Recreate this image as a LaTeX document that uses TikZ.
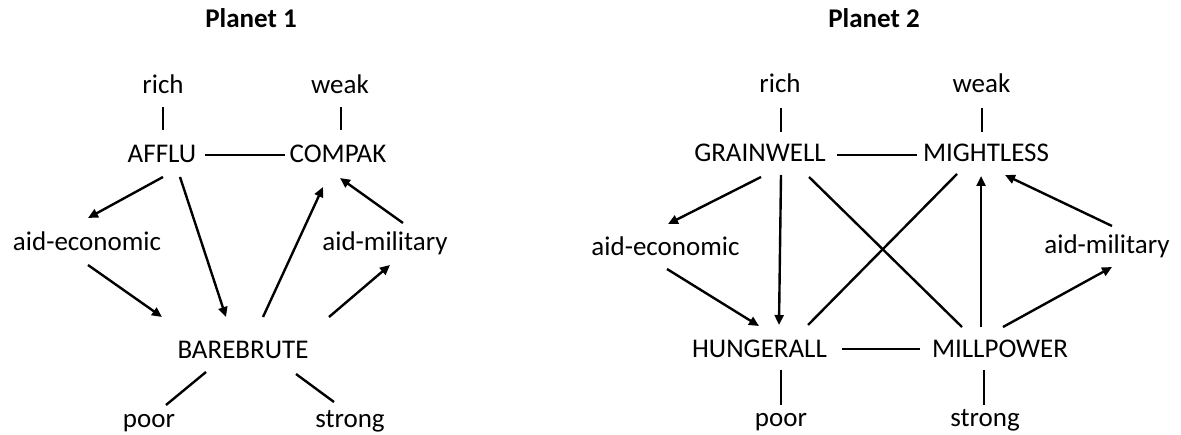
\documentclass[tikz,border=0pt]{standalone}
\usepackage{fontspec}
\setmainfont{Carlito}
\usetikzlibrary{arrows.meta}
\begin{document}
\begin{tikzpicture}[x=1pt,y=-1pt,
  lbl/.style={anchor=base,inner sep=0pt,font=\fontsize{27}{30}\selectfont},
  ttl/.style={lbl,font=\fontsize{27}{30}\selectfont\bfseries},
  ln/.style={line width=2.4pt},
  arr/.style={line width=2.4pt,-{Triangle[length=10pt,width=9pt]}}]
\useasboundingbox (0,0) rectangle (1181,435);
% Planet 1
\node[ttl] (t1) at (251,28) {Planet 1};
\node[lbl] (rich1) at (163,94) {rich};
\node[lbl] (weak1) at (340,94) {weak};
\node[lbl] (afflu) at (162,163) {AFFLU};
\node[lbl] (compak) at (338,163) {COMPAK};
\node[lbl] (aide1) at (87,251) {aid-economic};
\node[lbl] (aidm1) at (385,251) {aid-military};
\node[lbl] (bare) at (243,359) {BAREBRUTE};
\node[lbl] (poor1) at (149,428) {poor};
\node[lbl] (strong1) at (350,428) {strong};
\draw[ln] ([shift={(0,13)}]rich1.base) -- ([shift={(1,-33)}]afflu.base);
\draw[ln] ([shift={(0.7,13)}]weak1.base) -- ([shift={(2.7,-33)}]compak.base);
\draw[ln] ([shift={(43,-8)}]afflu.base) -- ([shift={(-53,-8)}]compak.base);
\draw[arr] ([shift={(1,14)}]afflu.base) -- ([shift={(1,-33)}]aide1.base);
\draw[arr] ([shift={(18,14)}]afflu.base) -- ([shift={(-17,-42)}]bare.base);
\draw[arr] ([shift={(20,-42)}]bare.base) -- ([shift={(-15,24)}]compak.base);
\draw[arr] ([shift={(18,-28)}]aidm1.base) -- ([shift={(2,15)}]compak.base);
\draw[arr] ([shift={(1,14)}]aide1.base) -- ([shift={(-81,-42)}]bare.base);
\draw[arr] ([shift={(86,-42)}]bare.base) -- ([shift={(5,14)}]aidm1.base);
\draw[ln] ([shift={(-37,13)}]bare.base) -- ([shift={(17,-23)}]poor1.base);
\draw[ln] ([shift={(53,15)}]bare.base) -- ([shift={(-16,-26)}]strong1.base);
% Planet 2
\node[ttl] (t2) at (874,28) {Planet 2};
\node[lbl] (rich2) at (780,93) {rich};
\node[lbl] (weak2) at (981.5,93) {weak};
\node[lbl] (grain) at (760,162) {GRAINWELL};
\node[lbl] (might) at (986,162) {MIGHTLESS};
\node[lbl] (aide2) at (665.5,256) {aid-economic};
\node[lbl] (aidm2) at (1107,254) {aid-military};
\node[lbl] (hunger) at (759.5,358) {HUNGERALL};
\node[lbl] (mill) at (1000,358) {MILLPOWER};
\node[lbl] (poor2) at (781,427) {poor};
\node[lbl] (strong2) at (985,427) {strong};
\draw[ln] ([shift={(0.7,15)}]rich2.base) -- ([shift={(20.7,-30)}]grain.base);
\draw[ln] ([shift={(0.2,15)}]weak2.base) -- ([shift={(-4.3,-30)}]might.base);
\draw[ln] ([shift={(77,-7)}]grain.base) -- ([shift={(-69,-7)}]might.base);
\draw[arr] ([shift={(1,15)}]grain.base) -- ([shift={(2.5,-32)}]aide2.base);
\draw[arr] ([shift={(21,13)}]grain.base) -- ([shift={(19.5,-33)}]hunger.base);
\draw[ln] ([shift={(49,15)}]grain.base) -- ([shift={(-38,-31)}]mill.base);
\draw[ln] ([shift={(48.5,-33)}]hunger.base) -- ([shift={(-29,12)}]might.base);
\draw[arr] ([shift={(-19,-31)}]mill.base) -- ([shift={(-5,14)}]might.base);
\draw[arr] ([shift={(5,-28)}]aidm2.base) -- ([shift={(19,13)}]might.base);
\draw[arr] ([shift={(1.5,13)}]aide2.base) -- ([shift={(-0.5,-32)}]hunger.base);
\draw[arr] ([shift={(3,-31)}]mill.base) -- ([shift={(5,13)}]aidm2.base);
\draw[ln] ([shift={(82.5,-9)}]hunger.base) -- ([shift={(-80,-9)}]mill.base);
\draw[ln] ([shift={(21.5,12)}]hunger.base) -- ([shift={(0,-22)}]poor2.base);
\draw[ln] ([shift={(-16,12)}]mill.base) -- ([shift={(-1,-22)}]strong2.base);
\end{tikzpicture}
\end{document}
